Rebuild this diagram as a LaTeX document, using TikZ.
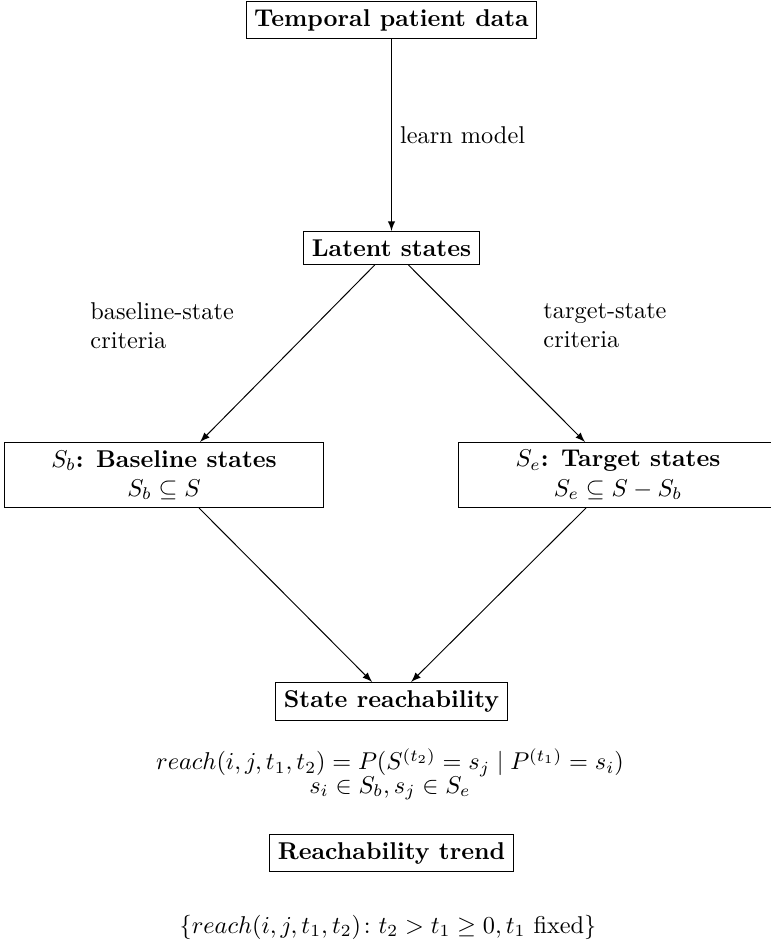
\documentclass[tikz,border=0pt]{standalone}
\usepackage{amsmath,amssymb}
\begin{document}
\begin{tikzpicture}[x=0.4115pt,y=-0.4115pt,
  box/.style={draw,font=\bfseries},
  wbox/.style={draw,align=center,minimum width=130.9pt},
  conn/.style={-latex},
  lbl/.style={inner sep=0pt,align=left,anchor=north west}]
\useasboundingbox (0,0) rectangle (770,942);
\node[box] (top) at (391.5,20) {Temporal patient data};
\node[box] (latent) at (391.5,248) {Latent states};
\node[wbox] (lb) at (164,475) {\textbf{$S_b$: Baseline states}\\$S_b \subseteq S$};
\node[wbox] (rb) at (618,475) {\textbf{$S_e$: Target states}\\$S_e \subseteq S - S_b$};
\node[box] (reach) at (391.5,701.5) {State reachability};
\node[box] (trend) at (391.5,853) {Reachability trend};
\node[align=center,anchor=base,execute at begin node={\lineskiplimit=-100pt\relax}] (f1) at (390,793) {$reach(i,j,t_1,t_2) = P(S^{(t_2)} = s_j \mid P^{(t_1)} = s_i)$\\[-2.5pt]$s_i \in S_b, s_j \in S_e$};
\node[anchor=base] (f2) at (388,933) {$\{reach(i,j,t_1,t_2)\colon t_2 > t_1 \geq 0, t_1 \text{ fixed}\}$};
\node[lbl] (bl) at (90,302) {baseline-state\\criteria};
\node[lbl] (tl) at (543,303) {target-state\\criteria};
\coordinate (lbin) at (200,442);
\coordinate (rbin) at (585,442);
\coordinate (lbout) at (199,508);
\coordinate (rbout) at (586,508);
\draw[conn] (top) -- node[midway,right] {learn model} (latent);
\draw[conn] (latent) -- (lbin);
\draw[conn] (latent) -- (rbin);
\draw[conn] (lbout) -- (reach);
\draw[conn] (rbout) -- (reach);
\end{tikzpicture}
\end{document}
